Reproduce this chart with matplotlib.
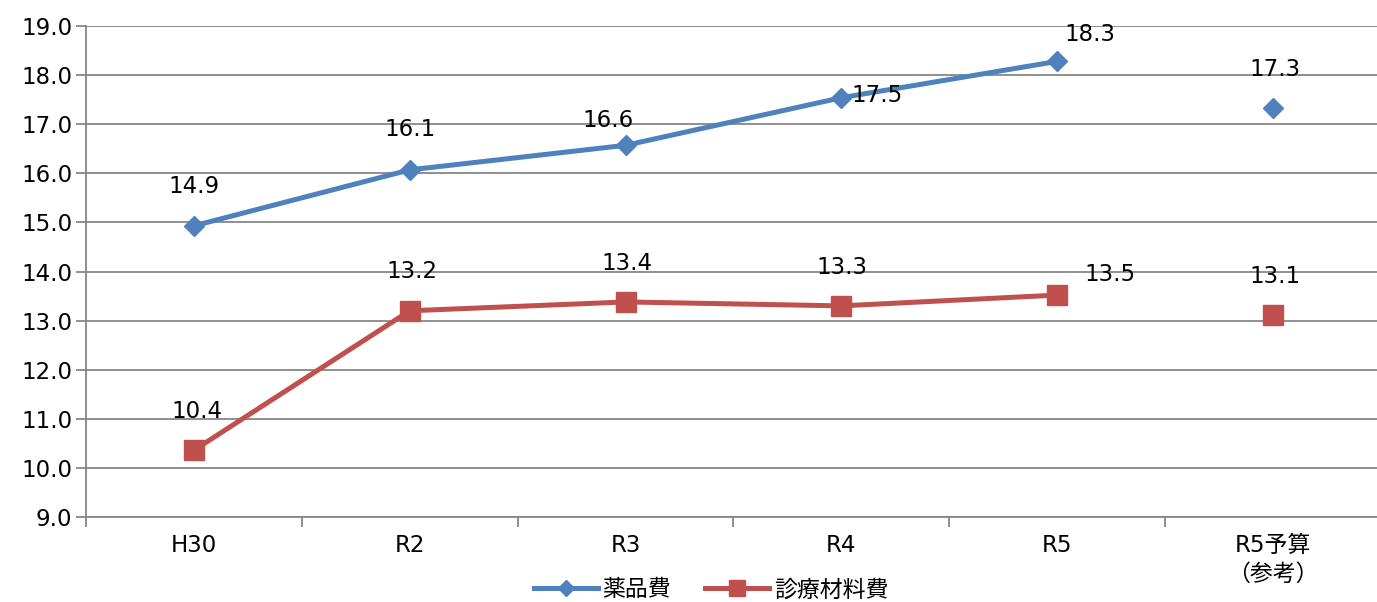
import matplotlib.pyplot as plt
from matplotlib.ticker import FixedLocator, NullFormatter

plt.rcParams['font.family'] = ['DejaVu Sans', 'Noto Sans CJK JP']

# data
categories = ['H30', 'R2', 'R3', 'R4', 'R5', 'R5予算\n（参考）']
drug_cost = [14.93, 16.07, 16.57, 17.54, 18.28, 17.34]
material_cost = [10.36, 13.20, 13.38, 13.30, 13.52, 13.11]
drug_name = '薬品費'
material_name = '診療材料費'

# label offsets in pixels (dx, dy) for each point
drug_offsets = [(0, 39), (0, 40), (-18, 25), (36, 2), (33, 27), (2, 38)]
material_offsets = [(3, 39), (2, 39), (1, 38), (1, 38), (53, 21), (2, 39)]

blue = '#4F81BD'
red = '#C0504D'
grid_gray = '#878787'
fs = 16.5

fig = plt.figure(figsize=(13.77, 6.02), dpi=100)
ax = fig.add_axes([86 / 1377, 1 - 517 / 602, 1295 / 1377, 491 / 602])

x = list(range(len(categories)))
n_line = len(categories) - 1

ax.plot(x[:n_line], drug_cost[:n_line], color=blue, lw=3.6, marker='D', ms=10,
        label=drug_name, zorder=3)
ax.plot(x[-1:], drug_cost[-1:], color=blue, lw=0, marker='D', ms=10, zorder=3)
ax.plot(x[:n_line], material_cost[:n_line], color=red, lw=3.6, marker='s', ms=14,
        label=material_name, zorder=3)
ax.plot(x[-1:], material_cost[-1:], color=red, lw=0, marker='s', ms=14, zorder=3)

for xi, v, off in zip(x, drug_cost, drug_offsets):
    ax.annotate(f'{v:.1f}', (xi, v), xytext=(off[0] * 0.72, off[1] * 0.72),
                textcoords='offset points', ha='center', va='center', fontsize=fs)
for xi, v, off in zip(x, material_cost, material_offsets):
    ax.annotate(f'{v:.1f}', (xi, v), xytext=(off[0] * 0.72, off[1] * 0.72),
                textcoords='offset points', ha='center', va='center', fontsize=fs)

ax.set_xlim(-0.5, len(categories) - 0.5)
ax.set_ylim(9.0, 19.0)
ax.set_yticks([9 + i for i in range(11)])
ax.set_yticklabels([f'{9 + i:.1f}' for i in range(11)], fontsize=fs)
ax.yaxis.grid(True, color=grid_gray, lw=1.3)
ax.set_axisbelow(True)

ax.set_xticks(x)
ax.set_xticklabels(categories, fontsize=fs, linespacing=1.35, va='top')
ax.tick_params(axis='x', length=0, pad=12)
ax.xaxis.set_minor_locator(FixedLocator([i - 0.5 for i in range(len(categories) + 1)]))
ax.xaxis.set_minor_formatter(NullFormatter())
ax.tick_params(axis='x', which='minor', length=7, width=1.3, color=grid_gray, direction='out')
ax.tick_params(axis='y', length=7, width=1.3, color=grid_gray, pad=3)

for s in ['top', 'right']:
    ax.spines[s].set_visible(False)
for s in ['left', 'bottom']:
    ax.spines[s].set_color(grid_gray)
    ax.spines[s].set_linewidth(1.3)

fig.legend(loc='center', bbox_to_anchor=(711 / 1377, 1 - 590 / 602), ncol=2,
           frameon=False, fontsize=fs, handlelength=2.8, columnspacing=1.5,
           handletextpad=0.2, markerscale=0.85, borderpad=0, borderaxespad=0)

fig.savefig('out.png', dpi=100)
